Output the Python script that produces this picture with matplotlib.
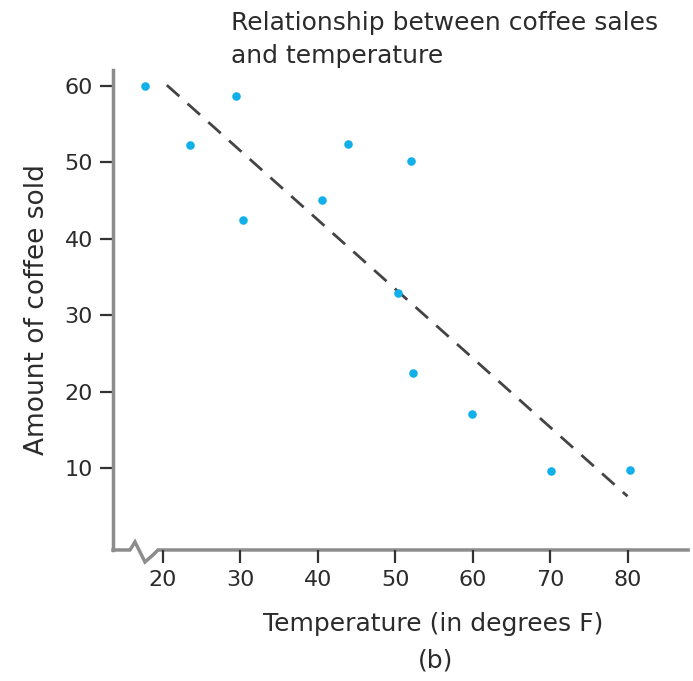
import matplotlib
matplotlib.use("Agg")
import matplotlib.pyplot as plt
from matplotlib.transforms import blended_transform_factory

# Scatter points (temperature F, amount sold)
temperature = [17.7, 23.5, 29.4, 30.3, 40.5, 43.9, 52.0, 50.4, 52.3, 59.9, 70.1, 80.3]
coffee_sold = [60.0, 52.3, 58.7, 42.5, 45.1, 52.4, 50.2, 32.9, 22.4, 17.1, 9.6, 9.7]

# Dashed trend line end points
trend_x = [20.5, 80.0]
trend_y = [60.1, 6.3]

x_ticks = [20, 30, 40, 50, 60, 70, 80]
y_ticks = [10, 20, 30, 40, 50, 60]

TEXT = "#2b2b2b"
SPINE = "#8c8c8c"
DOT = "#12b0ea"

plt.rcParams["font.family"] = ["DejaVu Sans"]

fig = plt.figure(figsize=(6.93, 6.81), dpi=100)
ax = fig.add_axes([0.163, 0.1924, 0.830, 0.705])

ax.plot(trend_x, trend_y, color="#444444", lw=2, dashes=(6, 4))
ax.scatter(temperature, coffee_sold, s=38, color=DOT, zorder=3, linewidths=0)

ax.set_xlim(13.54, 87.83)
ax.set_ylim(-0.73, 62.1)
ax.set_xticks(x_ticks)
ax.set_yticks(y_ticks)
ax.tick_params(axis="both", length=9.5, width=1.6, color="#333333",
               labelsize=16, labelcolor=TEXT, pad=5)

for side in ("top", "right"):
    ax.spines[side].set_visible(False)
ax.spines["left"].set_color(SPINE)
ax.spines["left"].set_linewidth(2.5)
ax.spines["bottom"].set_visible(False)

# bottom axis with a break (zigzag) near the origin
tr = blended_transform_factory(ax.transAxes, ax.transAxes)
bx = [0.0, 0.0296, 0.0383, 0.0557, 0.0696, 0.0783, 1.0]
by = [0.0, 0.0, 0.0167, -0.025, -0.0104, 0.0, 0.0]
ax.plot(bx, by, transform=tr, color=SPINE, lw=2.5, clip_on=False,
        solid_joinstyle="miter", zorder=1)

ax.set_ylabel("Amount of coffee sold", fontsize=19, color=TEXT)
ax.set_xlabel("Temperature (in degrees F)", fontsize=18, color=TEXT)
ax.xaxis.set_label_coords(0.557, -0.13)
ax.yaxis.set_label_coords(-0.11, 0.5)
fig.text(0.628, 0.012, "(b)", fontsize=18, color=TEXT, ha="center", va="bottom")

fig.text(0.333, 0.984, "Relationship between coffee sales\nand temperature",
         fontsize=18, color=TEXT, ha="left", va="top", linespacing=1.5)

fig.savefig("out.png", dpi=100)
